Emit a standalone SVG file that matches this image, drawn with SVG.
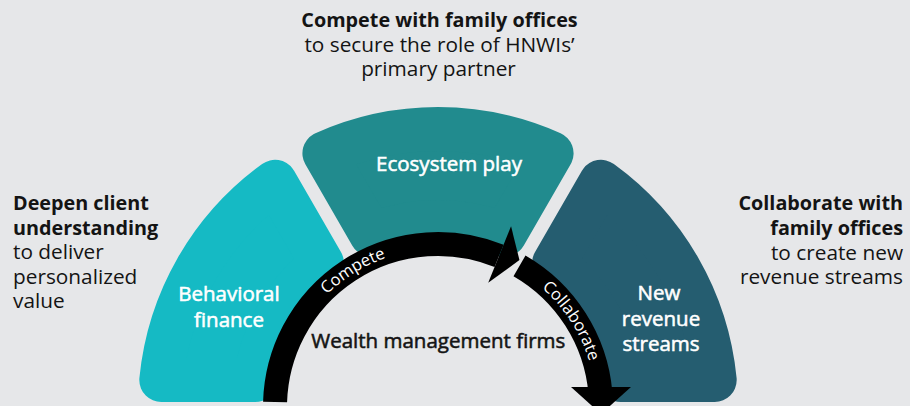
<svg xmlns="http://www.w3.org/2000/svg" width="910" height="406" viewBox="0 0 910 406">
  <defs>
    <style>
      .bg { fill: #E6E7E9; }
      .sec { stroke-width: 44; stroke-linejoin: round; }
      .s1 { fill: #15BAC4; stroke: #15BAC4; }
      .s2 { fill: #218B8E; stroke: #218B8E; }
      .s3 { fill: #255D70; stroke: #255D70; }
      .shaft { fill: none; stroke: #000; stroke-width: 24; stroke-linecap: butt; }
      .head { fill: #000; }
      text { font-family: "Open Sans", "Noto Sans", "DejaVu Sans", sans-serif; }
      .lbl { fill: #fff; stroke: #fff; stroke-width: 0.55; font-size: 20.5px; font-weight: 400; text-anchor: middle; }
      .b { fill: #141414; font-size: 19.8px; font-weight: 700; }
      .r { fill: #141414; font-size: 20.8px; font-weight: 400; }
      .arc { fill: #fff; font-size: 16.5px; font-weight: 400; }
      .wm { fill: #141414; stroke: #141414; stroke-width: 0.55; font-size: 20.5px; font-weight: 400; text-anchor: middle; }
    </style>
    <path id="tp" d="M 280,407 A 158 158 0 0 1 596,407"/>
  </defs>

  <rect class="bg" x="0" y="0" width="910" height="406"/>

  <g id="node-behavioral-finance">
    <path class="sec s1" d="M 161.31,380 A 278 278 0 0 1 275.04,181.8 L 321.9,262.9 A 185 185 0 0 0 254.98,380 Z"/>
    <text class="lbl" x="229" y="300.5">Behavioral</text>
    <text class="lbl" x="229" y="326.5">finance</text>
  </g>

  <g id="node-ecosystem-play">
    <path class="sec s2" d="M 324.41,153.27 A 278 278 0 0 1 551.59,153.27 L 504.73,234.45 A 185 185 0 0 0 371.27,234.45 Z"/>
    <text class="lbl" x="449" y="170.5">Ecosystem play</text>
  </g>

  <g id="node-new-revenue-streams">
    <path class="sec s3" d="M 714.69,380 A 278 278 0 0 0 600.96,181.8 L 554.1,262.9 A 185 185 0 0 1 621.02,380 Z"/>
    <text class="lbl" x="659" y="300">New</text>
    <text class="lbl" x="661" y="325.5">revenue</text>
    <text class="lbl" x="661" y="351">streams</text>
  </g>

  <g id="connectors">
    <g id="arrow-compete">
      <path class="shaft" d="M 275.08,402 A 163 163 0 0 1 499.06,255.87"/>
      <polygon class="head" points="511.05,226.2 519.45,260.1 488.2,282.8"/>
    </g>
    <g id="arrow-collaborate">
      <path class="shaft" d="M 519.5,265.84 A 163 163 0 0 1 600.4,392.8"/>
      <polygon class="head" points="571,387 631,387 601,414"/>
    </g>
    <text class="arc"><textPath href="#tp" startOffset="160" text-anchor="middle">Compete</textPath></text>
    <text class="arc"><textPath href="#tp" startOffset="405.6" text-anchor="middle">Collaborate</textPath></text>
  </g>

  <g id="node-wealth-management-firms">
    <text class="wm" x="438.3" y="348.3">Wealth management firms</text>
  </g>

  <g id="note-top" text-anchor="middle">
    <text class="b" x="439.5" y="27">Compete with family offices</text>
    <text class="r" x="439.5" y="51.5">to secure the role of HNWIs’</text>
    <text class="r" x="438.5" y="76">primary partner</text>
  </g>

  <g id="note-left">
    <text class="b" x="13" y="210">Deepen client</text>
    <text class="b" x="13" y="234.5">understanding</text>
    <text class="r" x="13" y="259">to deliver</text>
    <text class="r" x="13" y="283.5">personalized</text>
    <text class="r" x="13" y="308">value</text>
  </g>

  <g id="note-right" text-anchor="end">
    <text class="b" x="903" y="210">Collaborate with</text>
    <text class="b" x="903" y="234.5">family offices</text>
    <text class="r" x="903" y="259.5">to create new</text>
    <text class="r" x="903" y="284">revenue streams</text>
  </g>
</svg>
